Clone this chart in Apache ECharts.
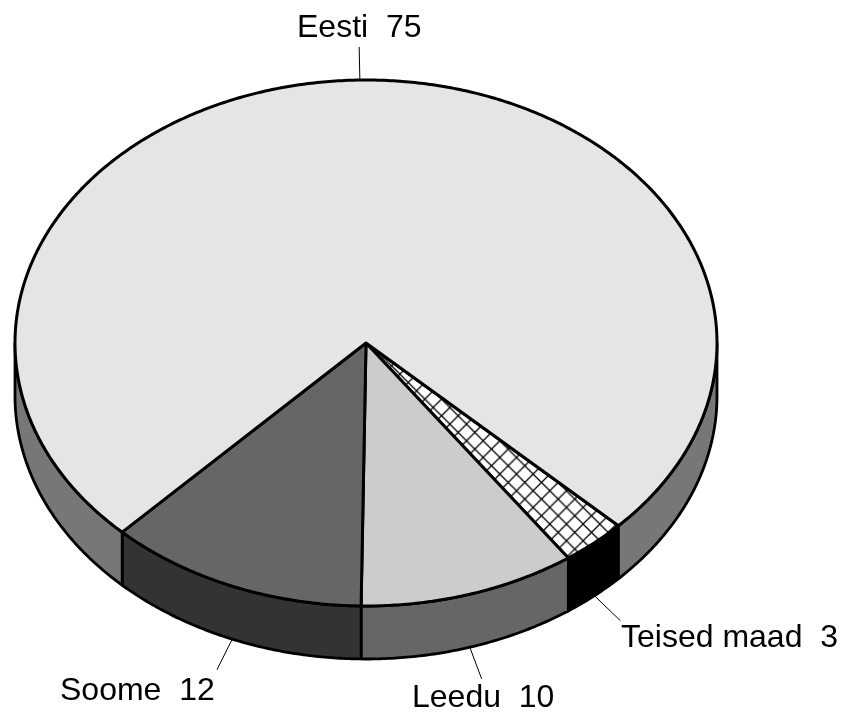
<!DOCTYPE html>
<html>
<head>
<meta charset="utf-8">
<style>html,body{margin:0;padding:0;background:#fff}#c{width:847px;height:712px}</style>
<script src="https://cdn.jsdelivr.net/npm/echarts@6/dist/echarts.min.js"></script>
</head>
<body>
<div id="c"></div>
<script>
var categories = ['Teised maad', 'Leedu', 'Soome', 'Eesti'];
var values = [3, 10, 12, 75];
var topColors = ['#ffffff', '#cccccc', '#666666', '#e5e5e5'];
var sideColors = ['#000000', '#666666', '#333333', '#777777'];
var labelX = [621, 412, 60, 297];
var labelTop = [622, 682, 675, 12];

var CX = 366, CY = 343, RX = 351, RY = 263, DEPTH = 53, START_DEG = 44;
var LEAD_X = 40, LEAD_Y = 33;

var total = values.reduce(function (a, b) { return a + b; }, 0);

function makeHatch() {
  var p = 17, k = document.createElement('canvas');
  k.width = p; k.height = p;
  var g = k.getContext('2d');
  g.fillStyle = '#fff'; g.fillRect(0, 0, p, p);
  g.strokeStyle = '#000'; g.lineWidth = 1.3;
  g.beginPath();
  g.moveTo(-1, -1); g.lineTo(p + 1, p + 1);
  g.moveTo(-1, p + 1); g.lineTo(p + 1, -1);
  g.stroke();
  return k;
}
var hatch = { image: makeHatch(), repeat: 'repeat', x: 0, y: 7.6, scaleX: 0.98, scaleY: 0.98 };

function pt(deg, dy) {
  var t = deg * Math.PI / 180;
  return [CX + RX * Math.cos(t), CY + RY * Math.sin(t) + (dy || 0)];
}
function arc(a, b, dy) {
  var out = [], n = Math.max(2, Math.ceil(Math.abs(b - a) * 2));
  for (var i = 0; i <= n; i++) out.push(pt(a + (b - a) * i / n, dy));
  return out;
}
function wall(a, b, fill) {
  return {
    type: 'polygon', z2: 1,
    shape: { points: arc(a, b, 0).concat(arc(b, a, DEPTH)) },
    style: { fill: fill, stroke: '#000', lineWidth: 2.8, lineJoin: 'round' }
  };
}

function renderItem(params, api) {
  var i = params.dataIndex, v = api.value(0), before = 0;
  for (var j = 0; j < i; j++) before += values[j];
  var a = START_DEG + before / total * 360, b = a + v / total * 360, mid = (a + b) / 2;
  var kids = [];
  [[0, 180], [360, 540]].forEach(function (w) {
    var s = Math.max(a, w[0]), e = Math.min(b, w[1]);
    if (e > s) kids.push(wall(s, e, sideColors[i]));
  });
  kids.push({
    type: 'polygon', z2: 2,
    shape: { points: [[CX, CY]].concat(arc(a, b, 0)) },
    style: { fill: i === 0 ? hatch : topColors[i], stroke: '#000', lineWidth: 3, lineJoin: 'round' }
  });
  var t = mid * Math.PI / 180, onFront = Math.sin(t) > 0, dy = onFront ? DEPTH : 0;
  var p0 = pt(mid, dy);
  kids.push({
    type: 'line', z2: 0,
    shape: { x1: p0[0], y1: p0[1], x2: p0[0] + LEAD_X * Math.cos(t), y2: p0[1] + LEAD_Y * Math.sin(t) },
    style: { stroke: '#000', lineWidth: 1 }
  });
  kids.push({
    type: 'text', z2: 3,
    style: {
      x: labelX[i], y: labelTop[i], text: categories[i] + '  ' + v,
      fill: '#000', font: '32px "Liberation Sans", Arial, sans-serif',
      align: 'left', verticalAlign: 'top'
    }
  });
  return { type: 'group', children: kids };
}

var chart = echarts.init(document.getElementById('c'), null, { renderer: 'canvas' });
chart.setOption({
  animation: false,
  backgroundColor: '#ffffff',
  series: [{
    type: 'custom',
    coordinateSystem: 'none',
    silent: true,
    renderItem: renderItem,
    data: values.map(function (v, i) { return { name: categories[i], value: [v] }; })
  }]
});
</script>
</body>
</html>
